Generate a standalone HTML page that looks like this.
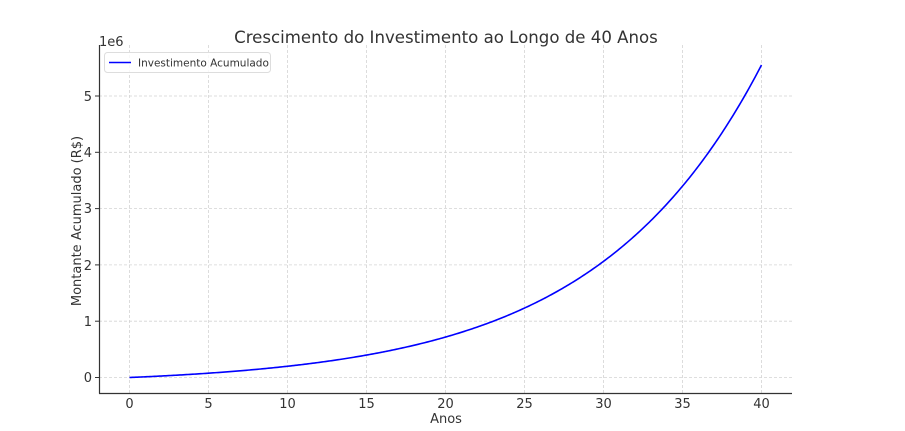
<!DOCTYPE html>
<html><head><meta charset="utf-8"><style>
html,body{margin:0;padding:0;background:#fff}
svg{display:block;font-family:"DejaVu Sans","Liberation Sans",sans-serif}
</style></head><body>
<svg id="s" width="905" height="431" viewBox="0 0 905 431">
<rect width="905" height="431" fill="#fff"/>
<g stroke="#d4d4d4" stroke-width="0.8" stroke-dasharray="3,2" fill="none">
<line x1="129.5" y1="45" x2="129.5" y2="393"/>
<line x1="208.5" y1="45" x2="208.5" y2="393"/>
<line x1="287.5" y1="45" x2="287.5" y2="393"/>
<line x1="366.5" y1="45" x2="366.5" y2="393"/>
<line x1="445.5" y1="45" x2="445.5" y2="393"/>
<line x1="524.5" y1="45" x2="524.5" y2="393"/>
<line x1="603.5" y1="45" x2="603.5" y2="393"/>
<line x1="682.5" y1="45" x2="682.5" y2="393"/>
<line x1="761.5" y1="45" x2="761.5" y2="393"/>
<line x1="99" y1="377.5" x2="792" y2="377.5"/>
<line x1="99" y1="321.2" x2="792" y2="321.2"/>
<line x1="99" y1="264.9" x2="792" y2="264.9"/>
<line x1="99" y1="208.6" x2="792" y2="208.6"/>
<line x1="99" y1="152.3" x2="792" y2="152.3"/>
<line x1="99" y1="96" x2="792" y2="96"/>
</g>
<g stroke="#333" stroke-width="1.2">
<line x1="99.5" y1="45" x2="99.5" y2="393.5"/>
<line x1="99" y1="393.5" x2="792" y2="393.5"/>
</g>
<g stroke="#333" stroke-width="1">
<line x1="95" y1="377.5" x2="99" y2="377.5"/><line x1="95" y1="321.2" x2="99" y2="321.2"/>
<line x1="95" y1="264.9" x2="99" y2="264.9"/><line x1="95" y1="208.6" x2="99" y2="208.6"/>
<line x1="95" y1="152.3" x2="99" y2="152.3"/><line x1="95" y1="96" x2="99" y2="96"/>
</g>
<g font-size="13" fill="#333" text-anchor="end">
<text x="92" y="382">0</text><text x="92" y="326">1</text><text x="92" y="270">2</text>
<text x="92" y="213">3</text><text x="92" y="157">4</text><text x="92" y="101">5</text>
</g>
<g font-size="13" fill="#333" text-anchor="middle">
<text x="129.5" y="408">0</text><text x="208.5" y="408">5</text><text x="287.5" y="408">10</text>
<text x="366.5" y="408">15</text><text x="445.5" y="408">20</text><text x="524.5" y="408">25</text>
<text x="603.5" y="408">30</text><text x="682.5" y="408">35</text><text x="761.5" y="408">40</text>
<text x="446" y="423">Anos</text>
<text x="446" y="43" font-size="16.6">Crescimento do Investimento ao Longo de 40 Anos</text>
</g>
<text x="99" y="46" font-size="13" fill="#333">1e6</text>
<text transform="translate(81,221) rotate(-90)" font-size="13" fill="#333" text-anchor="middle">Montante Acumulado (R$)</text>
<path id="c" fill="none" stroke="#0000ff" stroke-width="1.6"/>
<rect x="104.5" y="52.5" width="166" height="20" rx="3" fill="#fff" fill-opacity="0.8" stroke="#ddd"/>
<line x1="109" y1="62.5" x2="131" y2="62.5" stroke="#0000ff" stroke-width="1.6"/>
<text x="138" y="66.5" font-size="10.5" fill="#333">Investimento Acumulado</text>
</svg>
<script>
var d="",A=12540,r=0.1;
for(var i=0;i<=400;i++){var n=i/10,v=A*(Math.pow(1+r,n)-1)/r;
var x=129.5+n*15.8,y=377.5-v/1e6*56.3;d+=(i?"L":"M")+x.toFixed(2)+","+y.toFixed(2);}
document.getElementById("c").setAttribute("d",d);
</script>
</body></html>
